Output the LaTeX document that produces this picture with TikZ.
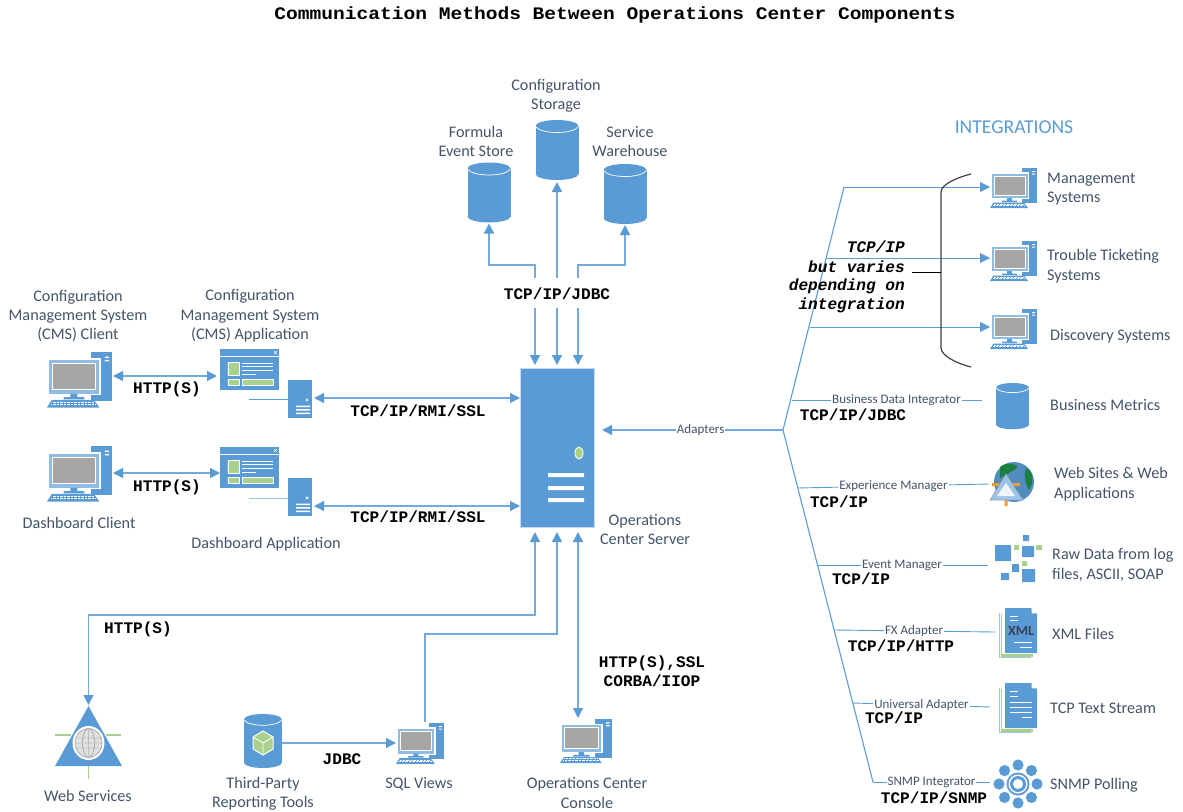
\documentclass[tikz,border=0pt]{standalone}
\usepackage{graphicx}
\usepackage{fontspec}
\setmainfont{Carlito}
\setmonofont{Liberation Mono}
\usetikzlibrary{arrows.meta}
\definecolor{ibm}{HTML}{5B9BD5}
\definecolor{lite}{HTML}{9DC3E6}
\definecolor{slate}{HTML}{44546A}
\definecolor{leaf}{HTML}{A9D18E}
\definecolor{scr}{HTML}{A6A6A6}
\definecolor{orng}{HTML}{ED9B2D}
\tikzset{
 x=1pt,y=-1pt,
 box/.style={inner sep=0pt,outer sep=0pt},
 lab/.style={text=slate,font=\fontsize{16.2}{19.4}\selectfont,align=center,inner sep=0pt},
 labl/.style={lab,align=left,anchor=west},
 small/.style={text=slate,font=\fontsize{13}{14}\selectfont,inner sep=1pt,fill=white},
 mono/.style={font=\fontsize{16.1}{19}\ttfamily\bfseries\selectfont,inner sep=0pt,text=black},
 monoit/.style={mono,anchor=east,font=\fontsize{16.1}{19}\ttfamily\bfseries\itshape\selectfont},
 link/.style={draw=ibm,line width=.9pt},
 wire/.style={draw=ibm!85!white,line width=1.3pt},
 tip/.style={-{Triangle[length=10pt,width=10pt,color=ibm]}},
 tips/.style={{Triangle[length=10pt,width=10pt,color=ibm]}-{Triangle[length=10pt,width=10pt,color=ibm]}},
 pics/computer/.style={code={
  \fill[ibm] (32,1) rectangle (47,36);
  \fill[white] (42,4) rectangle (45,5) (42,6.5) rectangle (45,7.5);
  \fill[white] (0.3,5) rectangle (39,32);
  \fill[lite!80!ibm] (1.5,6.5) rectangle (37.5,31);
  \fill[white] (3.5,8.5) rectangle (35.5,28.5);
  \fill[scr] (4.5,9.5) rectangle (34.5,27.5);
  \fill[ibm] (17,31) rectangle (22,34) (12,33.5) rectangle (27,35);
  \fill[ibm] (3.5,35.5) -- (34,35.5) -- (38,41) -- (0,41) -- cycle;
  \draw[white,line width=.5pt,dash pattern=on .8pt off .6pt] (4,37) -- (34,37) (3,38.6) -- (35,38.6);
 }},
 pics/can/.style={code={
  \fill[ibm] (0,6) rectangle (43,54);
  \fill[ibm] (21.5,54) ellipse [x radius=21.5,y radius=6];
  \fill[ibm] (21.5,6) ellipse [x radius=21.5,y radius=6];
  \draw[white,line width=.7pt] (0,6.5) .. controls (5,14.5) and (38,14.5) .. (43,6.5);
 }},
 pics/appwin/.style={code={
  \fill[ibm] (0,0) rectangle (59,41);
  \draw[white,line width=.6pt] (0,7.2) -- (59,7.2);
  \draw[white,line width=.5pt] (54,2) -- (57,5) (57,2) -- (54,5);
  \fill[leaf,draw=white,line width=.4pt] (7.7,13) rectangle (19,26) (7.7,30) rectangle (19.3,36) (22,30) rectangle (53,36);
  \draw[white,line width=.8pt] (22.3,14.5) -- (52.7,14.5) (22.3,17.5) -- (52.7,17.5) (22.3,21) -- (52.7,21) (22.3,25) -- (36,25);
 }},
 pics/tower/.style={code={
  \fill[ibm] (0,0) rectangle (24,38);
  \draw[white,line width=.5pt] (19,20) circle [radius=1.2];
  \fill[white] (8,25.5) rectangle (22,27) (8,29) rectangle (22,30.5) (8,32.5) rectangle (22,34);
 }},
 pics/pages/.style={code={
  \fill[lite] (0,5) rectangle (32,50);
  \fill[white] (1,5) rectangle (33,48.7);
  \fill[leaf] (2,6) rectangle (34,48.5);
  \fill[white] (3,5) rectangle (37,46);
  \fill[ibm] (6,0) -- (32,0) -- (38,6) -- (38,45) -- (6,45) -- cycle;
  \fill[white] (32.6,0) -- (38,5.4) -- (32.6,5.4) -- cycle;
 }},
}
\begin{document}
\begin{tikzpicture}
\useasboundingbox (0,0) rectangle (1183,811);
% title
\node[font=\fontsize{17.6}{22}\ttfamily\bfseries\selectfont,inner sep=0pt] (title) at (615,15) {\scalebox{1.112}[1]{Communication Methods Between Operations Center Components}};
\node[font=\fontsize{19.6}{22}\selectfont,text=ibm,inner sep=0pt] (integ) at (1014,127) {INTEGRATIONS};

% server
\node[box,fill=ibm,draw=lite!60!white,line width=.5pt,minimum width=74pt,minimum height=159pt] (server) at (557,447.5) {};
\fill[leaf,draw=white!80!leaf,line width=1pt] (579,453) ellipse [x radius=4,y radius=6];
\fill[white] (548,473) rectangle (584,477) (548,486) rectangle (584,490) (548,498) rectangle (584,502);

% databases
\node[box,minimum width=43pt,minimum height=60pt] (store) at (489,192.5) {};
\pic at (467.5,162.5) {can};
\node[box,minimum width=43pt,minimum height=60pt] (conf) at (557,150) {};
\pic at (535.5,120) {can};
\node[box,minimum width=43pt,minimum height=60pt] (wh) at (625,194) {};
\pic at (603.5,164) {can};
\node[box,minimum width=33pt,minimum height=47pt] (biz) at (1012.5,406.5) {};
\pic[scale=.77] at (996,383) {can};
\node[box,minimum width=38pt,minimum height=54pt] (third) at (263,743) {};
\pic[xscale=.88,yscale=.9] at (244,714) {can};
\fill[leaf,draw=white,line width=1pt] (263,731) -- (273,737) -- (273,749) -- (263,755) -- (253,749) -- (253,737) -- cycle;
\draw[white,line width=.8pt] (253,737) -- (263,743) -- (273,737) (263,743) -- (263,755);

% computers
\node[box,minimum width=65pt,minimum height=58pt] (cmsc) at (79.5,380) {};
\pic[scale=1.38] at (47,351) {computer};
\node[box,minimum width=65pt,minimum height=58pt] (dashc) at (79.5,474) {};
\pic[scale=1.38] at (47,445) {computer};
\node[box,minimum width=47pt,minimum height=41pt] (mgmt) at (1013.5,187.5) {};
\pic at (990,167) {computer};
\node[box,minimum width=47pt,minimum height=41pt] (trouble) at (1013.5,260.5) {};
\pic at (990,240) {computer};
\node[box,minimum width=47pt,minimum height=41pt] (disc) at (1013.5,328.5) {};
\pic at (990,308) {computer};
\node[box,minimum width=48pt,minimum height=42pt] (sql) at (420,743) {};
\pic[scale=1.02] at (396,722) {computer};
\node[box,minimum width=52pt,minimum height=45pt] (console) at (586,740.5) {};
\pic[scale=1.1] at (560,718) {computer};

% applications
\node[box,minimum width=59pt,minimum height=41pt] (cmsa) at (249.5,369.5) {};
\pic at (220,349) {appwin};
\node[box,minimum width=59pt,minimum height=41pt] (dasha) at (249.5,467.5) {};
\pic at (220,447) {appwin};
\node[box,minimum width=24pt,minimum height=38pt] (cmss) at (300,399) {};
\pic at (288,380) {tower};
\node[box,minimum width=24pt,minimum height=38pt] (dashs) at (300,497) {};
\pic at (288,478) {tower};

% web services
\node[box,minimum width=68pt,minimum height=60pt] (websvc) at (88.5,736) {};
\fill[ibm] (88.5,706) -- (122,766) -- (55,766) -- cycle;
\draw[leaf,line width=1.6pt] (55,735) -- (71,735) (106,735) -- (121,735) (88.5,766) -- (88.5,779);
\fill[white] (88.5,743) ellipse [x radius=16,y radius=17];
\fill[white!88!black] (88.5,743) ellipse [x radius=13.5,y radius=14.5];
\draw[black!45,line width=.4pt] (88.5,743) ellipse [x radius=13.5,y radius=14.5] (88.5,743) ellipse [x radius=6,y radius=14.5]
 (75.5,738) -- (101.5,738) (75.5,748) -- (101.5,748) (75,743) -- (102,743) (88.5,728.5) -- (88.5,757.5);

% web sites icon
\node[box,minimum width=40pt,minimum height=40pt] (sites) at (1014,482) {};
\fill[ibm!90!black] (1014,482) circle [radius=20];
\fill[green!45!black!70!ibm] (1026,468) .. controls (1034,472) and (1034,482) .. (1029,490) .. controls (1024,480) and (1024,476) .. (1026,468) -- cycle;
\fill[green!45!black!70!ibm] (1000,467) .. controls (1006,462) and (1014,463) .. (1018,467) .. controls (1012,472) and (1006,474) .. (1000,478) -- cycle;
\fill[orng] (992,483) rectangle (1020,486) (1004.5,500) rectangle (1007.5,506);
\fill[lite,draw=slate!60,line width=.5pt] (1006,474) -- (1023,500) -- (990,500) -- cycle;
\fill[white!90!ibm] (1006,483) -- (1015,496) -- (997,496) -- cycle;

% raw data
\node[box,minimum width=47pt,minimum height=47pt] (raw) at (1018,558) {};
\fill[ibm] (995,545) rectangle (1011,561) (1022,546) rectangle (1034,557) (1023,535) rectangle (1029,541)
 (1012,564) rectangle (1019,572) (1001,573) rectangle (1009,580) (1022,569) rectangle (1035,582);
\fill[leaf] (1014,545) rectangle (1019,550) (1036,545) rectangle (1042,550) (1022,561) rectangle (1027,566);

% files
\node[box,minimum width=38pt,minimum height=50pt] (xml) at (1018,633) {};
\pic at (999,608) {pages};
\node[font=\fontsize{14}{14}\selectfont\bfseries,text=slate!80!black,inner sep=0pt] (xmlt) at (1021,631) {XML};
\draw[white,line width=.7pt] (1010,616) -- (1018,616) (1010,620) -- (1018,620) (1014,642) -- (1032,642) (1020,647) -- (1032,647);
\node[box,minimum width=38pt,minimum height=50pt] (txt) at (1018,708) {};
\pic at (999,683) {pages};
\draw[white,line width=.7pt] (1010,691) -- (1018,691) (1010,696) -- (1018,696) (1010,702) -- (1032,702) (1010,707) -- (1032,707) (1010,712) -- (1032,712) (1022,717) -- (1032,717);

% snmp
\node[box,minimum width=50pt,minimum height=50pt] (snmp) at (1018,784) {};
\foreach \a in {0,45,...,315} \fill[ibm] (1018,784) ++(\a:19) circle [radius=5.6];
\fill[ibm] (1018,784) circle [radius=11.5];
\fill[white] (1018,784) circle [radius=9.5];
\fill[ibm] (1018,784) circle [radius=8];
\fill[white] (1018,784) circle [radius=5];

% connectors: top
\coordinate (tl) at (535,278);
\coordinate (tc) at (557,278);
\coordinate (tr) at (578,278);
\coordinate (ll) at (535,308);
\coordinate (lc) at (557,308);
\coordinate (lr) at (578,308);
\draw[wire,tip] (tl) -- (535,265) -| ([yshift=-1pt]store.south);
\draw[wire,tip] (tc) -- ([yshift=-2pt]conf.south);
\draw[wire,tip] (tr) -- (578,265) -| ([yshift=-1pt]wh.south);
\draw[wire,tip] (ll) -- ([xshift=-22pt,yshift=3pt]server.north);
\draw[wire,tip] (lc) -- ([yshift=3pt]server.north);
\draw[wire,tip] (lr) -- ([xshift=21pt,yshift=3pt]server.north);
\node[mono] (jdbc1) at (557,294) {TCP/IP/JDBC};

% connectors: left
\coordinate (a1) at (249,399);
\coordinate (a2) at (249,498);
\draw[wire,tips] ([xshift=1pt,yshift=4pt]cmsc.east) -- ([xshift=-3pt,yshift=-6.5pt]cmsa.west);
\draw[wire,tips] ([xshift=1pt,yshift=1pt]dashc.east) -- ([yshift=-5.5pt]dasha.west);
\draw[link] (a1) -- (cmss.west);
\draw[link,draw=lite] (a2) -- (a2 -| dashs.west);
\draw[wire,tips] ([xshift=2pt,yshift=1pt]cmss.east) -- ([yshift=1pt]cmss.east -| server.west);
\draw[wire,tips] ([xshift=2pt,yshift=-9pt]dashs.east) -- ([yshift=-9pt]dashs.east -| server.west);
\node[mono] (h1) at (167,389) {HTTP(S)};
\node[mono] (h2) at (167,487) {HTTP(S)};
\node[mono] (r1) at (418,411) {TCP/IP/RMI/SSL};
\node[mono] (r2) at (418,517) {TCP/IP/RMI/SSL};

% connectors: bottom
\draw[wire,tips] ([xshift=-22pt,yshift=-5pt]server.south) -- (535,615) -| ([yshift=1pt]websvc.north);
\coordinate (sqltop) at (425,722);
\draw[wire,tip] (sqltop) -- (425,634) -- (557,634) -- ([yshift=-5pt]server.south);
\draw[wire,tips] ([xshift=21pt,yshift=-5pt]server.south) -- ([xshift=-8pt]console.north);
\draw[wire,tip] (third.east) -- (sql.west);
\node[mono] (h3) at (138,629) {HTTP(S)};
\node[mono] (j) at (342,759) {JDBC};
\node[mono,align=center] (h4) at (652,671) {HTTP(S),SSL\\CORBA/IIOP};

% trunk
\coordinate (ttop) at (844,187);
\coordinate (tmid) at (783,430);
\coordinate (tbot) at (873,782);
\coordinate (b1) at (827,258);
\coordinate (b2) at (810,327);
\coordinate (b3) at (792,400);
\coordinate (b4) at (798,488);
\coordinate (b5) at (818,565);
\coordinate (b6) at (835,630);
\coordinate (b7) at (853,703);
\draw[link,line width=1.1pt] (ttop) -- (tmid) -- (tbot);
\draw[link,tip] (ttop) -- (ttop -| mgmt.west);
\draw[link,tip] (b1) -- (b1 -| trouble.west);
\draw[link,tip] (b2) -- (b2 -| disc.west);
\draw[wire,tip] (tmid) -- node[small,pos=.455] {Adapters} ([xshift=8pt,yshift=17.5pt]server.east);
\draw[link] (b3) -- node[small,pos=.55] {Business Data Integrator} (982,400) coordinate (e3);
\draw[link] (b4) -- node[small,pos=.5] {Experience Manager} (989,484) coordinate (e4);
\draw[link] (b5) -- node[small,pos=.494] {Event Manager} (988,565) coordinate (e5);
\draw[link] (b6) -- node[small,pos=.494] {FX Adapter} (995,632) coordinate (e6);
\draw[link] (b7) -- node[small,pos=.5] {Universal Adapter} (990,707) coordinate (e7);
\draw[link] (tbot) -- node[small,pos=.5] {SNMP Integrator} (990,782) coordinate (e8);

% bracket
\draw[black!75,line width=1.2pt] (971,174) .. controls (955,178) and (941,185) .. (941,192) -- (941,348) .. controls (941,355) and (955,363) .. (971,367);
\coordinate (bk) at (912,272.7);
\draw[black,line width=1pt] (bk) -- (941,272.7);
\node[monoit] at (905,247) {TCP/IP};
\node[monoit] at (905,267) {but varies};
\node[monoit] at (905,286) {depending on};
\node[monoit] at (905,305) {integration};

\node[mono] at (853,415) {TCP/IP/JDBC};
\node[mono] at (839,502) {TCP/IP};
\node[mono] at (861,579) {TCP/IP};
\node[mono] at (901,646) {TCP/IP/HTTP};
\node[mono] at (894,718) {TCP/IP};
\node[mono] at (934,798) {TCP/IP/SNMP};

% labels
\node[lab] at (556,95.5) {Configuration\\Storage};
\node[lab] at (476,141.5) {Formula\\Event Store};
\node[lab] at (630,141.5) {Service\\Warehouse};
\node[lab] at (78,316) {Configuration\\Management System\\(CMS) Client};
\node[lab] at (250,316) {Configuration\\Management System\\(CMS) Application};
\node[lab] at (79,523) {Dashboard Client};
\node[lab] at (266,544) {Dashboard Application};
\node[lab] at (645,529.5) {Operations\\Center Server};
\node[lab] at (88,796) {Web Services};
\node[lab] at (263,794) {Third-Party\\Reporting Tools};
\node[lab] at (419,784) {SQL Views};
\node[lab] at (587,793) {Operations Center\\Console};
\node[labl] at (1047,189) {Management\\Systems};
\node[labl] at (1047,266) {Trouble Ticketing\\Systems};
\node[labl] at (1050,336) {Discovery Systems};
\node[labl] at (1050,405) {Business Metrics};
\node[labl] at (1054,484) {Web Sites \& Web\\Applications};
\node[labl] at (1052,565) {Raw Data from log\\files, ASCII, SOAP};
\node[labl] at (1052,634) {XML Files};
\node[labl] at (1050,708) {TCP Text Stream};
\node[labl] at (1050,785) {SNMP Polling};
\end{tikzpicture}
\end{document}
